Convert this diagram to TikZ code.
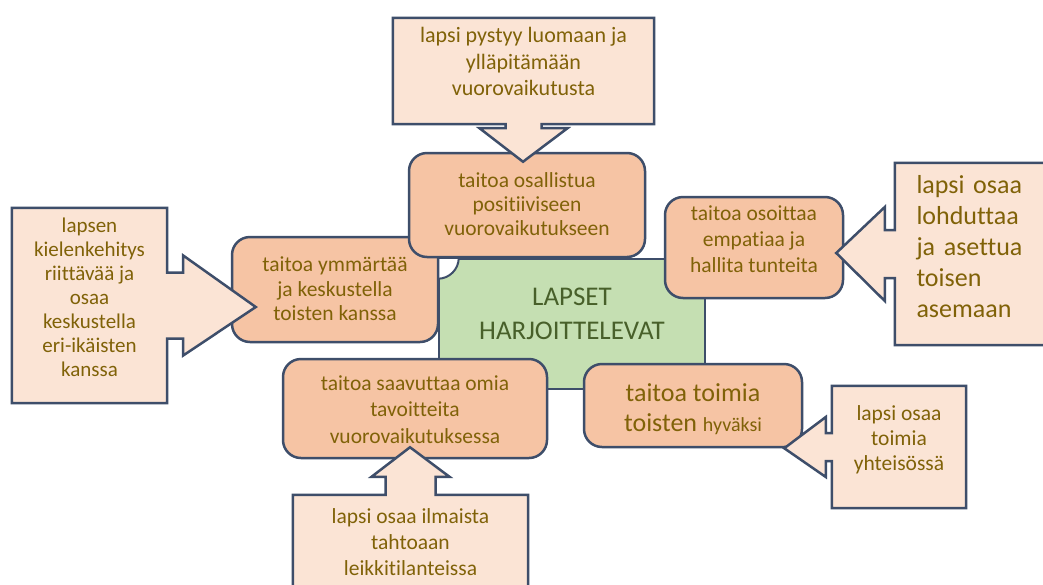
\documentclass[tikz,border=0pt]{standalone}
\usepackage{fontspec}
\setmainfont{Carlito}[Ligatures=NoCommon]
\usetikzlibrary{calc,positioning}
\definecolor{edgeblue}{RGB}{62,78,106}
\definecolor{corefill}{RGB}{197,223,178}
\definecolor{coretext}{RGB}{72,96,42}
\definecolor{skillfill}{RGB}{246,196,164}
\definecolor{hintfill}{RGB}{251,228,213}
\definecolor{labeltext}{RGB}{128,98,8}
\pgfdeclarelayer{front}
\pgfsetlayers{main,front}

\begin{document}
\begin{tikzpicture}[x=1pt, y=-1pt]
\tikzstyle{core} = [ rectangle, draw=edgeblue, line width=2.5pt, fill=corefill, text=coretext, align=center, inner sep=0pt, text depth=0pt, font=\fontsize{27pt}{34pt}\selectfont ]
\tikzstyle{skill} = [ rectangle, draw=edgeblue, line width=2.5pt, fill=skillfill, text=labeltext, rounded corners=18pt, align=center, inner sep=0pt, text depth=0pt, font=\fontsize{21.5pt}{25pt}\selectfont ]
\tikzstyle{hint} = [ rectangle, text=labeltext, align=center, inner sep=0pt, text depth=0pt, font=\fontsize{21.5pt}{25.5pt}\selectfont ]
\tikzstyle{pointer} = [ draw=edgeblue, line width=2.5pt, fill=hintfill, line join=miter ]
\useasboundingbox[fill=white] (0,0) rectangle (1043,584);

% place nodes
\node [core, minimum width=266pt, minimum height=130pt, text height=31pt] (lapset) at (572,324) {LAPSET\\HARJOITTELEVAT} ;
\filldraw [fill=white, draw=edgeblue, line width=2pt] (lapset.north west) -- ++(21,0) arc [start angle=0, end angle=-90, radius=21pt] -- cycle ;
\node [skill, minimum width=206pt, minimum height=105pt, text height=62pt, font=\fontsize{21.5pt}{24.5pt}\selectfont] (ymmartaa) at (335,289.5) {taitoa ymmärtää\\ja keskustella\\toisten kanssa} ;
\node [skill, minimum width=236pt, minimum height=104pt, text height=60pt, font=\fontsize{21.5pt}{24pt}\selectfont] (osallistua) at (527,205) {taitoa osallistua\\positiiviseen\\vuorovaikutukseen} ;
\node [skill, minimum width=178pt, minimum height=101pt, text height=49pt, font=\fontsize{21.5pt}{26pt}\selectfont] (empatia) at (754,247.5) {taitoa osoittaa\\empatiaa ja\\hallita tunteita} ;
\node [skill, minimum width=264pt, minimum height=99pt, text height=69pt, font=\fontsize{21.5pt}{26.5pt}\selectfont] (tavoitteet) at (415,408.5) {taitoa saavuttaa omia\\tavoitteita\\vuorovaikutuksessa} ;
\node [skill, minimum width=218pt, minimum height=83pt, text height=52pt, font=\fontsize{26pt}{30pt}\selectfont] (hyvaksi) at (693,405.5) {taitoa toimia\\toisten {\fontsize{20pt}{30pt}\selectfont hyväksi}} ;

\begin{pgfonlayer}{front}
\node [hint, minimum width=261pt, minimum height=106pt, text height=49pt, font=\fontsize{22pt}{26.5pt}\selectfont] (c-top) at (523.5,71) {lapsi pystyy luomaan ja\\ylläpitämään\\vuorovaikutusta} ;
\node [hint, minimum width=155pt, minimum height=195pt, text height=142pt, font=\fontsize{21pt}{24pt}\selectfont] (c-left) at (89.5,305.5) {lapsen\\kielenkehitys\\riittävää ja\\osaa\\keskustella\\eri-ikäisten\\kanssa} ;
\node [hint, minimum width=155pt, minimum height=182pt, text height=0pt, text depth=122pt, text width=112pt, align=left, font=\fontsize{26pt}{31pt}\selectfont] (c-right) at (972.5,254) {lapsi osaa\\lohduttaa\\ja asettua\\toisen\\asemaan} ;
\node [hint, minimum width=134pt, minimum height=122pt, text height=46pt, font=\fontsize{21.5pt}{25pt}\selectfont] (c-br) at (899,447) {lapsi osaa\\toimia\\yhteisössä} ;
\node [hint, minimum width=235pt, minimum height=105pt, text height=55pt, font=\fontsize{21.5pt}{26pt}\selectfont] (c-bot) at (410.5,547.5) {lapsi osaa ilmaista\\tahtoaan\\leikkitilanteissa} ;
\end{pgfonlayer}

\coordinate (tip-top) at ($(osallistua.north)+(-4,10)$) ;
\coordinate (tip-left) at ($(ymmartaa.west)+(25,17.5)$) ;
\coordinate (tip-right) at ($(empatia.east)+(-8,5.5)$) ;
\coordinate (tip-br) at ($(hyvaksi.south east)+(-19,0)$) ;
\coordinate (tip-bot) at ($(tavoitteet.south)+(-5,-12)$) ;

% draw edges
\path [pointer] (c-top.north west) -- (c-top.north east) -- (c-top.south east) -- ($(c-top.south)+(18,0)$) -- ++(0,4) -- ++(26,0) -- (tip-top) -- ($(c-top.south)+(-44,4)$) -- ++(26,0) -- ++(0,-4) -- (c-top.south west) -- cycle ;
\path [pointer] (c-left.north west) -- (c-left.north east) -- ($(c-left.east)+(0,-33)$) -- ++(16,0) -- ++(0,-17) -- (tip-left) -- ($(c-left.east)+(16,50)$) -- ++(0,-17) -- ++(-16,0) -- (c-left.south east) -- (c-left.south west) -- cycle ;
\path [pointer] (c-right.north east) -- (c-right.north west) -- ($(c-right.west)+(0,-24)$) -- ++(-10,0) -- ++(0,-23) -- (tip-right) -- ($(c-right.west)+(-10,47)$) -- ++(0,-23) -- ++(10,0) -- (c-right.south west) -- (c-right.south east) -- cycle ;
\path [pointer] (c-br.north east) -- (c-br.north west) -- ($(c-br.west)+(0,-14)$) -- ++(-6,0) -- ++(0,-16) -- (tip-br) -- ($(c-br.west)+(-6,30)$) -- ++(0,-16) -- ++(6,0) -- (c-br.south west) -- (c-br.south east) -- cycle ;
\path [pointer] (c-bot.south west) -- (c-bot.north west) -- ($(c-bot.north)+(-25,0)$) -- ++(0,-18) -- ++(-14,0) -- (tip-bot) -- ($(c-bot.north)+(39,-18)$) -- ++(-14,0) -- ++(0,18) -- (c-bot.north east) -- (c-bot.south east) -- cycle ;

\end{tikzpicture}
\end{document}
